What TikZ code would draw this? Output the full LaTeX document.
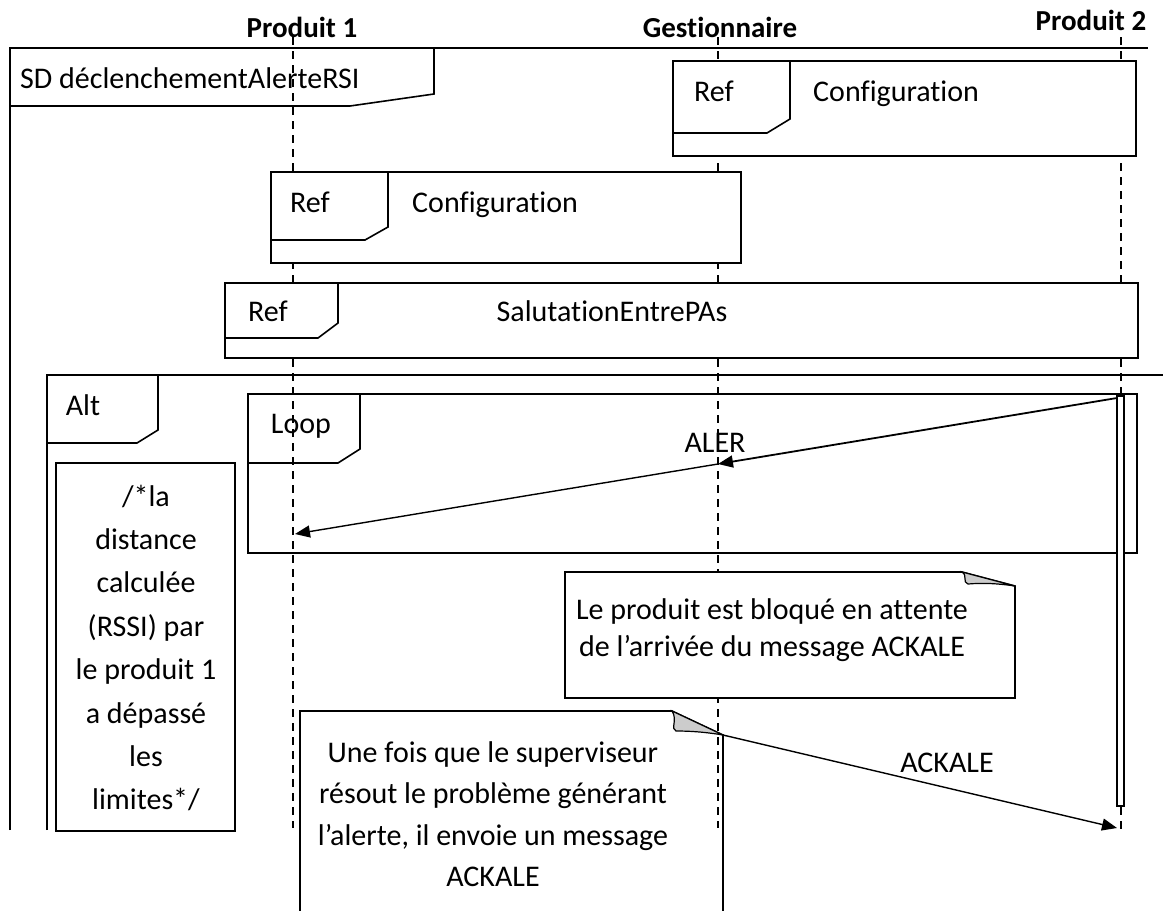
\documentclass[tikz,border=0pt]{standalone}
\usepackage{fontspec}
\setmainfont{Carlito}[Ligatures=NoCommon]
\usetikzlibrary{arrows.meta}
\tikzset{
  frm/.style={line width=1.6pt, line join=miter},
  life/.style={line width=1.5pt, dash pattern=on 8pt off 6pt},
  txt/.style={inner sep=0pt, font=\fontsize{30}{36}\selectfont},
  hdr/.style={inner sep=0pt, font=\fontsize{29}{35}\selectfont\bfseries},
  msg/.style={line width=1.4pt, -{Triangle[length=15pt,width=12pt]}},
  fold/.style={line width=1.2pt, fill=gray!40},
}
\begin{document}
\begin{tikzpicture}[x=1pt,y=-1pt]
\useasboundingbox (0,0) rectangle (1163,911);
% headers
\node[hdr, anchor=base] (h1) at (302,37) {Produit 1};
\node[hdr, anchor=base] (hg) at (720,37) {Gestionnaire};
\node[hdr, anchor=base] (h2) at (1091,30) {Produit 2};
% lifelines
\coordinate (l1t) at (293,37); \coordinate (l1b) at (293,828);
\coordinate (lgt) at (718,37); \coordinate (lgb) at (718,828);
\coordinate (l2t) at (1121,37); \coordinate (l2b) at (1121,830);
\draw[life] (l1t) -- (l1b);
\draw[life] (lgt) -- (lgb);
\draw[life] (l2t) -- (l2b);
% outer SD frame
\draw[frm] (10,830) -- (10,48) -- (1148,48);
\draw[frm] (10,106) -- (350,106) -- (434,94) -- (434,48);
\node[txt, anchor=base west] (sd) at (20,88) {SD déclenchementAlerteRSI};
% Ref Configuration 1
\draw[frm, fill=white] (673,61) rectangle (1136,156);
\draw[frm] (673,133) -- (767,133) -- (790,119) -- (790,61);
\node[txt, anchor=base] (r1) at (714,101) {Ref};
\node[txt, anchor=base west] (c1) at (813,101) {Configuration};
% Ref Configuration 2
\draw[frm, fill=white] (271,172) rectangle (741,263);
\draw[frm] (271,240) -- (365,240) -- (388,227) -- (388,172);
\node[txt, anchor=base] (r2) at (310,212) {Ref};
\node[txt, anchor=base west] (c2) at (412,212) {Configuration};
% Ref SalutationEntrePAs
\draw[frm, fill=white] (225,283) rectangle (1138,358);
\draw[frm] (225,338) -- (318,338) -- (338,323) -- (338,283);
\node[txt, anchor=base] (r3) at (268,321) {Ref};
\node[txt, anchor=base] (s3) at (612,321) {SalutationEntrePAs};
% Alt frame
\draw[frm] (47,830) -- (47,375) -- (1163,375);
\draw[frm] (47,443) -- (137,443) -- (158,430) -- (158,375);
\node[txt, anchor=base] (alt) at (83,415) {Alt};
% condition box
\draw[frm] (56,463) rectangle (235,831);
\node[txt, align=center, font=\fontsize{30}{43.4}\selectfont] (cond) at (146,648)
  {/*la\\distance\\calculée\\(RSSI) par\\le produit 1\\a dépassé\\les\\limites*/};
% Loop frame
\draw[frm] (248,394) rectangle (1137,553);
\draw[frm] (248,463) -- (338,463) -- (360,449) -- (360,394);
\node[txt, anchor=base] (loop) at (301,433) {Loop};
% activation bar
\draw[line width=1.3pt, fill=white] (1117,396) rectangle (1124,806);
% ALER messages
\coordinate (a2) at (1117,398);
\coordinate (ag) at (718,464);
\coordinate (a1) at (295,534);
\draw[msg, line width=1.8pt] (a2) -- (ag);
\draw[msg] (ag) -- (a1);
\node[txt, anchor=base] (aler) at (715,452) {ALER};
% Note 1
\draw[frm, fill=white] (962,572) -- (565,572) -- (565,698) -- (1015,698) -- (1015,586) -- cycle;
\draw[fold] (962,572) -- (1015,586) .. controls (995,583) and (980,583) .. (968,584)
  .. controls (962,582) and (968,576) .. cycle;
\node[txt, align=center, font=\fontsize{30}{37}\selectfont] (n1) at (772,630)
  {Le produit est bloqué en attente\\de l’arrivée du message ACKALE};
% Note 2
\draw[frm] (300,911) -- (300,711) -- (672,711) -- (723,735) -- (723,911);
\draw[fold] (672,711) -- (723,735) .. controls (705,732) and (690,731) .. (676,731)
  .. controls (670,729) and (678,720) .. cycle;
\coordinate (n2c) at (723,735);
\node[txt, align=center, font=\fontsize{30}{41.5}\selectfont] (n2) at (493,814)
  {Une fois que le superviseur\\résout le problème générant\\l’alerte, il envoie un message\\ACKALE};
% ACKALE message
\coordinate (ak) at (1117,828);
\draw[msg] (n2c) -- (ak);
\node[txt, anchor=base] (ack) at (947,772) {ACKALE};
\end{tikzpicture}
\end{document}
